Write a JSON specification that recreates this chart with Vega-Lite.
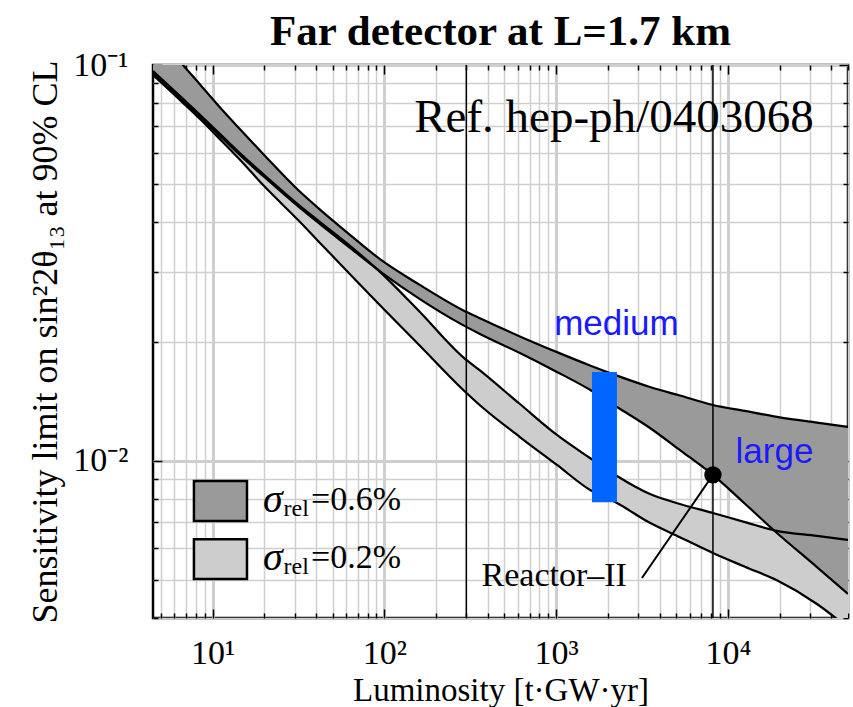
{
  "$schema": "https://vega.github.io/schema/vega-lite/v6.json",
  "width": 695,
  "height": 553,
  "autosize": {"type": "none"},
  "padding": {"left": 153, "top": 65, "right": 5, "bottom": 89},
  "background": "white",
  "title": {"text": "Far detector at L=1.7 km", "font": "Liberation Serif", "fontSize": 43, "fontWeight": "bold", "color": "black", "offset": -6, "anchor": "middle", "frame": "group"},
  "config": {"view": {"stroke": "black", "strokeWidth": 2.5}},
  "datasets": {
    "curves": [
      {"x": 4.5, "A": 0.124, "B": 0.0954, "C": 0.0966, "D": 0.0943},
      {"x": 6.73, "A": 0.1, "B": 0.0811, "C": 0.0821, "D": 0.0802},
      {"x": 8.45, "A": 0.0893, "B": 0.0739, "C": 0.0748, "D": 0.073},
      {"x": 10.6, "A": 0.0797, "B": 0.0673, "C": 0.0681, "D": 0.0661},
      {"x": 14.4, "A": 0.0689, "B": 0.0592, "C": 0.0599, "D": 0.0577},
      {"x": 19.7, "A": 0.0596, "B": 0.0524, "C": 0.053, "D": 0.0497},
      {"x": 32.3, "A": 0.0478, "B": 0.0435, "C": 0.044, "D": 0.0401},
      {"x": 42.2, "A": 0.0431, "B": 0.0396, "C": 0.0401, "D": 0.0355},
      {"x": 63.1, "A": 0.0372, "B": 0.0345, "C": 0.0349, "D": 0.0296},
      {"x": 94.3, "A": 0.0323, "B": 0.0301, "C": 0.03, "D": 0.0247},
      {"x": 161, "A": 0.0278, "B": 0.0256, "C": 0.02374, "D": 0.0195},
      {"x": 287, "A": 0.024, "B": 0.022, "C": 0.01827, "D": 0.0151},
      {"x": 360, "A": 0.0229, "B": 0.0209, "C": 0.0169, "D": 0.0138},
      {"x": 615, "A": 0.0206, "B": 0.0187, "C": 0.0139, "D": 0.01147},
      {"x": 1011, "A": 0.0188, "B": 0.01675, "C": 0.01161, "D": 0.00975},
      {"x": 1573, "A": 0.0174, "B": 0.0151, "C": 0.01015, "D": 0.00843},
      {"x": 2259, "A": 0.0164, "B": 0.01366, "C": 0.00914, "D": 0.00781},
      {"x": 3516, "A": 0.01535, "B": 0.01209, "C": 0.00823, "D": 0.00696},
      {"x": 5255, "A": 0.0146, "B": 0.01063, "C": 0.00777, "D": 0.0064},
      {"x": 8177, "A": 0.01382, "B": 0.0092, "C": 0.00737, "D": 0.00584},
      {"x": 12560, "A": 0.01335, "B": 0.00778, "C": 0.00699, "D": 0.00539},
      {"x": 19290, "A": 0.0129, "B": 0.00656, "C": 0.00664, "D": 0.00498},
      {"x": 32970, "A": 0.01247, "B": 0.00538, "C": 0.00645, "D": 0.00434},
      {"x": 50000, "A": 0.01216, "B": 0.0046, "C": 0.0063, "D": 0.00378}
    ]
  },
  "resolve": {"axis": {"x": "independent", "y": "independent"}},
  "layer": [
    {
      "layer": [
        {
          "data": {"name": "curves"},
          "mark": {"type": "area", "color": "#cdcdcd", "clip": true, "interpolate": "monotone"},
          "encoding": {
            "x": {
              "field": "x", "type": "quantitative",
              "scale": {"type": "log", "domain": [4.5, 50000], "nice": false},
              "axis": {
                "values": [5,6,7,8,9,10,20,30,40,50,60,70,80,90,100,200,300,400,500,600,700,800,900,1000,2000,3000,4000,5000,6000,7000,8000,9000,10000,20000,30000,40000,50000],
                "labelExpr": "datum.value == 10 ? '10¹' : datum.value == 100 ? '10²' : datum.value == 1000 ? '10³' : datum.value == 10000 ? '10⁴' : ''",
                "title": "Luminosity [t·GW·yr]",
                "grid": true,
                "gridColor": "#cfcfcf",
                "gridWidth": {"condition": {"test": "datum.value == 10 || datum.value == 100 || datum.value == 1000 || datum.value == 10000", "value": 3}, "value": 1.5},
                "domain": false,
                "tickColor": "black",
                "tickWidth": 1.5,
                "tickSize": {"condition": {"test": "datum.value == 10 || datum.value == 100 || datum.value == 1000 || datum.value == 10000", "value": -9}, "value": -5},
                "labelFont": "Liberation Serif", "labelFontSize": 34, "labelColor": "black",
                "labelPadding": 27, "labelOverlap": false, "labelFlush": false,
                "titleFont": "Liberation Serif", "titleFontSize": 33, "titleFontWeight": "normal", "titleColor": "black", "titlePadding": 0
              }
            },
            "y": {
              "field": "C", "type": "quantitative",
              "scale": {"type": "log", "domain": [0.004, 0.1], "nice": false},
              "axis": {
                "values": [0.004,0.005,0.006,0.007,0.008,0.009,0.01,0.02,0.03,0.04,0.05,0.06,0.07,0.08,0.09,0.1],
                "labelExpr": "datum.value == 0.1 ? '10⁻¹' : datum.value == 0.01 ? '10⁻²' : ''",
                "title": "Sensitivity limit on sin²2θ₁₃ at 90% CL",
                "grid": true,
                "gridColor": "#cfcfcf",
                "gridWidth": {"condition": {"test": "datum.value == 0.1 || datum.value == 0.01", "value": 3}, "value": 1.5},
                "domain": false,
                "tickColor": "black",
                "tickWidth": 1.5,
                "tickSize": {"condition": {"test": "datum.value == 0.1 || datum.value == 0.01", "value": -9}, "value": -5},
                "labelFont": "Liberation Serif", "labelFontSize": 34, "labelColor": "black",
                "labelPadding": 34, "labelOverlap": false, "labelFlush": false,
                "titleFont": "Liberation Serif", "titleFontSize": 36, "titleFontWeight": "normal", "titleColor": "black", "titlePadding": 8
              }
            },
            "y2": {"field": "D"}
          }
        },
        {
          "data": {"name": "curves"},
          "mark": {"type": "area", "color": "#9a9a9a", "clip": true, "interpolate": "monotone"},
          "encoding": {
            "x": {"field": "x", "type": "quantitative"},
            "y": {"field": "A", "type": "quantitative"},
            "y2": {"field": "B"}
          }
        },
        {
          "data": {"name": "curves"},
          "transform": [{"fold": ["A", "B", "C", "D"], "as": ["curve", "value"]}],
          "mark": {"type": "line", "color": "black", "strokeWidth": 2.2, "clip": true, "interpolate": "monotone"},
          "encoding": {
            "x": {"field": "x", "type": "quantitative"},
            "y": {"field": "value", "type": "quantitative"},
            "detail": {"field": "curve"}
          }
        },
        {
          "data": {"values": [{"x": 300}, {"x": 8180}]},
          "mark": {"type": "rule", "color": "black", "strokeWidth": 1.5},
          "encoding": {"x": {"field": "x", "type": "quantitative"}}
        },
        {
          "data": {"values": [{"x1": 1616, "x2": 2259, "y1": 0.00785, "y2": 0.01675}]},
          "mark": {"type": "rect", "color": "#0066ff"},
          "encoding": {
            "x": {"field": "x1", "type": "quantitative"},
            "x2": {"field": "x2"},
            "y": {"field": "y1", "type": "quantitative"},
            "y2": {"field": "y2"}
          }
        },
        {
          "data": {"values": [
            {"series": "0.6%", "x1": 7.79, "x2": 15.86, "y1": 0.00704, "y2": 0.00888},
            {"series": "0.2%", "x1": 7.79, "x2": 15.86, "y1": 0.00502, "y2": 0.00633}
          ]},
          "mark": {"type": "rect", "stroke": "black", "strokeWidth": 2.5},
          "encoding": {
            "x": {"field": "x1", "type": "quantitative"},
            "x2": {"field": "x2"},
            "y": {"field": "y1", "type": "quantitative"},
            "y2": {"field": "y2"},
            "fill": {"field": "series", "type": "nominal", "scale": {"domain": ["0.6%", "0.2%"], "range": ["#9a9a9a", "#cdcdcd"]}, "legend": null}
          }
        },
        {
          "data": {"values": [{"x": 19.65, "y": 0.00795, "t": "σ"}, {"x": 19.65, "y": 0.00567, "t": "σ"}]},
          "mark": {"type": "text", "font": "Liberation Serif", "fontStyle": "italic", "fontSize": 40, "align": "left", "baseline": "middle", "color": "black"},
          "encoding": {"x": {"field": "x", "type": "quantitative"}, "y": {"field": "y", "type": "quantitative"}, "text": {"field": "t"}}
        },
        {
          "data": {"values": [{"x": 25.9, "y": 0.00795, "t": "rel"}, {"x": 25.9, "y": 0.00567, "t": "rel"}]},
          "mark": {"type": "text", "font": "Liberation Serif", "fontSize": 24, "align": "left", "baseline": "middle", "dy": 9, "color": "black"},
          "encoding": {"x": {"field": "x", "type": "quantitative"}, "y": {"field": "y", "type": "quantitative"}, "text": {"field": "t"}}
        },
        {
          "data": {"values": [{"x": 37.4, "y": 0.00795, "t": "=0.6%"}, {"x": 37.4, "y": 0.00567, "t": "=0.2%"}]},
          "mark": {"type": "text", "font": "Liberation Serif", "fontSize": 34, "align": "left", "baseline": "middle", "color": "black"},
          "encoding": {"x": {"field": "x", "type": "quantitative"}, "y": {"field": "y", "type": "quantitative"}, "text": {"field": "t"}}
        },
        {
          "data": {"values": [{"x1": 8180, "y1": 0.0092, "x2": 3158, "y2": 0.00505}]},
          "mark": {"type": "rule", "color": "black", "strokeWidth": 2},
          "encoding": {
            "x": {"field": "x1", "type": "quantitative"},
            "y": {"field": "y1", "type": "quantitative"},
            "x2": {"field": "x2"},
            "y2": {"field": "y2"}
          }
        },
        {
          "data": {"values": [{"x": 8180, "y": 0.0092}]},
          "mark": {"type": "point", "shape": "circle", "filled": true, "color": "black", "opacity": 1, "size": 300},
          "encoding": {"x": {"field": "x", "type": "quantitative"}, "y": {"field": "y", "type": "quantitative"}}
        },
        {
          "data": {"values": [{"x": 2582, "y": 0.00511, "t": "Reactor–II"}]},
          "mark": {"type": "text", "font": "Liberation Serif", "fontSize": 34, "align": "right", "baseline": "middle", "color": "black"},
          "encoding": {"x": {"field": "x", "type": "quantitative"}, "y": {"field": "y", "type": "quantitative"}, "text": {"field": "t"}}
        },
        {
          "data": {"values": [{"x": 2170, "y": 0.0677, "t": "Ref. hep-ph/0403068"}]},
          "mark": {"type": "text", "font": "Liberation Serif", "fontSize": 47, "align": "center", "baseline": "alphabetic", "color": "black"},
          "encoding": {"x": {"field": "x", "type": "quantitative"}, "y": {"field": "y", "type": "quantitative"}, "text": {"field": "t"}}
        },
        {
          "data": {"values": [{"x": 2244, "y": 0.02077, "t": "medium"}, {"x": 18650, "y": 0.00986, "t": "large"}]},
          "mark": {"type": "text", "font": "Liberation Sans", "fontSize": 35, "align": "center", "baseline": "alphabetic", "color": "#1a1aff"},
          "encoding": {"x": {"field": "x", "type": "quantitative"}, "y": {"field": "y", "type": "quantitative"}, "text": {"field": "t"}}
        }
      ]
    },
    {
      "data": {"name": "curves"},
      "mark": {"type": "point", "opacity": 0, "clip": true},
      "encoding": {
        "x": {
          "field": "x", "type": "quantitative",
          "axis": {
            "orient": "top",
            "values": [5,6,7,8,9,10,20,30,40,50,60,70,80,90,100,200,300,400,500,600,700,800,900,1000,2000,3000,4000,5000,6000,7000,8000,9000,10000,20000,30000,40000,50000],
            "labels": false, "grid": false, "domain": false, "title": null,
            "minExtent": 0, "maxExtent": 0,
            "tickColor": "black", "tickWidth": 1.5,
            "tickSize": {"condition": {"test": "datum.value == 10 || datum.value == 100 || datum.value == 1000 || datum.value == 10000", "value": -9}, "value": -5}
          }
        },
        "y": {
          "field": "B", "type": "quantitative",
          "axis": {
            "orient": "right",
            "values": [0.004,0.005,0.006,0.007,0.008,0.009,0.01,0.02,0.03,0.04,0.05,0.06,0.07,0.08,0.09,0.1],
            "labels": false, "grid": false, "domain": false, "title": null,
            "minExtent": 0, "maxExtent": 0,
            "tickColor": "black", "tickWidth": 1.5,
            "tickSize": {"condition": {"test": "datum.value == 0.1 || datum.value == 0.01", "value": -9}, "value": -5}
          }
        }
      }
    }
  ]
}
